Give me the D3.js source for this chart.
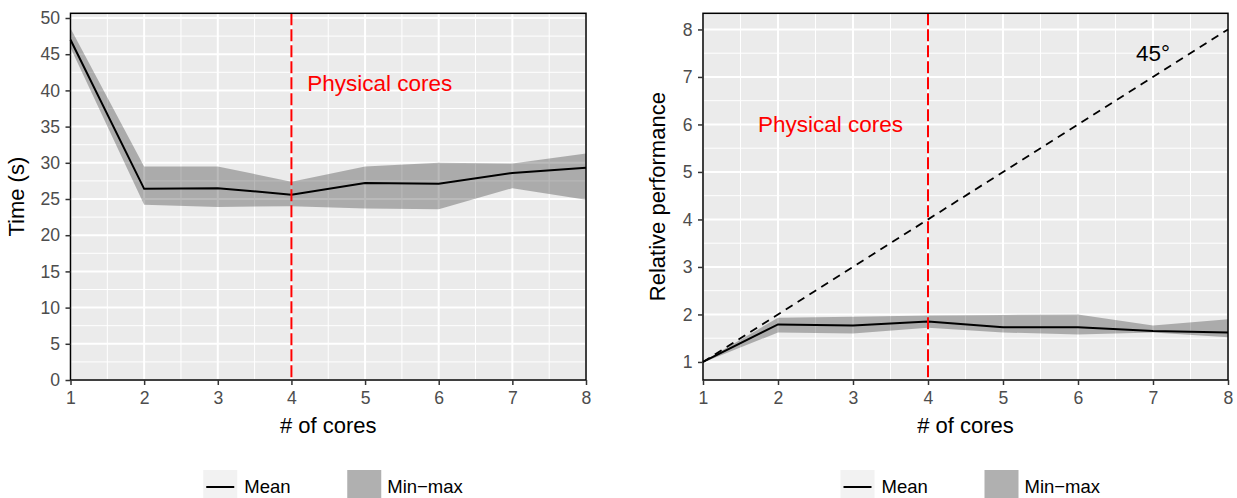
<!DOCTYPE html>
<html>
<head>
<meta charset="utf-8">
<script src="https://cdn.jsdelivr.net/npm/d3@7"></script>
<style>
  html, body { margin: 0; padding: 0; background: #fff; }
  svg { display: block; font-family: "Liberation Sans", Arial, Helvetica, sans-serif; }
</style>
</head>
<body>
<svg id="chart" width="1237" height="498"></svg>
<script>
// ---- data ----
const cores = [1, 2, 3, 4, 5, 6, 7, 8];
const timeMean = [47.0, 26.4, 26.5, 25.6, 27.2, 27.1, 28.6, 29.3];
const timeMin  = [45.9, 24.2, 23.9, 24.0, 23.7, 23.6, 26.5, 24.9];
const timeMax  = [48.6, 29.5, 29.5, 27.4, 29.5, 30.0, 29.9, 31.3];
const perfMean = [1.00, 1.79, 1.77, 1.85, 1.73, 1.73, 1.65, 1.62];
const perfMin  = [0.99, 1.62, 1.60, 1.72, 1.62, 1.58, 1.62, 1.52];
const perfMax  = [1.01, 1.93, 1.95, 1.98, 1.99, 2.00, 1.77, 1.90];
const xTicks = [1, 2, 3, 4, 5, 6, 7, 8];
const timeTicks = [0, 5, 10, 15, 20, 25, 30, 35, 40, 45, 50];
const perfTicks = [1, 2, 3, 4, 5, 6, 7, 8];
const legendLabels = ["Mean", "Min\u2212max"];
const physicalCores = 4;

const svg = d3.select("#chart");

function panel(opts) {
  const { left, right, top, bottom, yDomain, yTicks, yMinor, mean, lo, hi, yTitle, annot, diag } = opts;
  const x = d3.scaleLinear().domain([1, 8]).range([left, right]);
  const y = d3.scaleLinear().domain(yDomain).range([bottom, top]);
  const g = svg.append("g");

  g.append("rect").attr("x", left).attr("y", top)
    .attr("width", right - left).attr("height", bottom - top).attr("fill", "#ebebeb");

  const xMinor = d3.range(1.5, 8, 1);
  g.selectAll(".xmin").data(xMinor).join("line")
    .attr("x1", d => x(d)).attr("x2", d => x(d)).attr("y1", top).attr("y2", bottom)
    .attr("stroke", "#fff").attr("stroke-width", 1);
  g.selectAll(".ymin").data(yMinor).join("line")
    .attr("y1", d => y(d)).attr("y2", d => y(d)).attr("x1", left).attr("x2", right)
    .attr("stroke", "#fff").attr("stroke-width", 1);
  g.selectAll(".xmaj").data(xTicks).join("line")
    .attr("x1", d => x(d)).attr("x2", d => x(d)).attr("y1", top).attr("y2", bottom)
    .attr("stroke", "#fff").attr("stroke-width", 2);
  g.selectAll(".ymaj").data(yTicks).join("line")
    .attr("y1", d => y(d)).attr("y2", d => y(d)).attr("x1", left).attr("x2", right)
    .attr("stroke", "#fff").attr("stroke-width", 2);

  // ribbon
  const area = d3.area().x((d, i) => x(cores[i])).y0((d, i) => y(lo[i])).y1((d, i) => y(hi[i]));
  g.append("path").datum(cores).attr("d", area).attr("fill", "#000").attr("fill-opacity", 0.27);

  if (diag) {
    g.append("line").attr("x1", x(1)).attr("y1", y(1)).attr("x2", x(8)).attr("y2", y(8))
      .attr("stroke", "#000").attr("stroke-width", 1.8).attr("stroke-dasharray", "8,6");
  }

  const line = d3.line().x((d, i) => x(cores[i])).y((d, i) => y(mean[i]));
  g.append("path").datum(cores).attr("d", line).attr("fill", "none")
    .attr("stroke", "#000").attr("stroke-width", 2);

  g.append("line").attr("x1", x(physicalCores)).attr("x2", x(physicalCores))
    .attr("y1", top).attr("y2", bottom)
    .attr("stroke", "#ff0000").attr("stroke-width", 2).attr("stroke-dasharray", "12,4");

  annot.forEach(a => {
    g.append("text").attr("x", x(a.x)).attr("y", y(a.y)).attr("dy", "0.35em")
      .attr("text-anchor", "middle").attr("font-size", 22.5).attr("fill", a.color).text(a.label);
  });

  g.append("rect").attr("x", left).attr("y", top)
    .attr("width", right - left).attr("height", bottom - top)
    .attr("fill", "none").attr("stroke", "#000").attr("stroke-width", 1.5);

  // axes
  const xAxis = g.append("g").attr("transform", `translate(0,${bottom})`)
    .call(d3.axisBottom(x).tickValues(xTicks).tickFormat(d3.format("d")).tickSize(5).tickPadding(6.5));
  const yAxis = g.append("g").attr("transform", `translate(${left},0)`)
    .call(d3.axisLeft(y).tickValues(yTicks).tickFormat(d3.format("d")).tickSize(5).tickPadding(5.5));
  [xAxis, yAxis].forEach(ax => {
    ax.select(".domain").remove();
    ax.selectAll(".tick line").attr("stroke", "#333").attr("stroke-width", 1.5);
    ax.selectAll(".tick text").attr("fill", "#4d4d4d").attr("font-size", 17.6)
      .attr("font-family", "Liberation Sans, Arial, sans-serif");
  });

  const cx = (left + right) / 2;
  g.append("text").attr("x", cx).attr("y", 433).attr("text-anchor", "middle")
    .attr("font-size", 22).attr("fill", "#000").text("# of cores");
  g.append("text")
    .attr("transform", `translate(${opts.yTitleX},${(top + bottom) / 2}) rotate(-90)`)
    .attr("text-anchor", "middle").attr("font-size", 22).attr("fill", "#000").text(yTitle);

  // legend
  const ky = 470, ks = 34;
  const lg = g.append("g");
  lg.append("rect").attr("x", cx - 125).attr("y", ky).attr("width", ks).attr("height", ks).attr("fill", "#f2f2f2");
  lg.append("line").attr("x1", cx - 122).attr("x2", cx - 94).attr("y1", ky + 17).attr("y2", ky + 17)
    .attr("stroke", "#000").attr("stroke-width", 2);
  lg.append("text").attr("x", cx - 84).attr("y", 493).attr("font-size", 18.5).attr("fill", "#000").text(legendLabels[0]);
  lg.append("rect").attr("x", cx + 19).attr("y", ky).attr("width", ks).attr("height", ks).attr("fill", "#f2f2f2");
  lg.append("rect").attr("x", cx + 19).attr("y", ky).attr("width", ks).attr("height", ks)
    .attr("fill", "#000").attr("fill-opacity", 0.27);
  lg.append("text").attr("x", cx + 59).attr("y", 493).attr("font-size", 18.5).attr("fill", "#000").text(legendLabels[1]);
}

panel({
  left: 70.5, right: 586, top: 13.3, bottom: 380,
  yDomain: [0, 50.65], yTicks: timeTicks, yMinor: d3.range(2.5, 50, 5),
  mean: timeMean, lo: timeMin, hi: timeMax, yTitle: "Time (s)", yTitleX: 24,
  annot: [{ x: 5.2, y: 41, label: "Physical cores", color: "#ff0000" }], diag: false
});
panel({
  left: 703, right: 1228, top: 13.3, bottom: 380,
  yDomain: [0.62, 8.34], yTicks: perfTicks, yMinor: d3.range(1.5, 8, 1),
  mean: perfMean, lo: perfMin, hi: perfMax, yTitle: "Relative performance", yTitleX: 665,
  annot: [{ x: 2.7, y: 6, label: "Physical cores", color: "#ff0000" },
          { x: 7, y: 7.5, label: "45\u00b0", color: "#000" }], diag: true
});
</script>
</body>
</html>
